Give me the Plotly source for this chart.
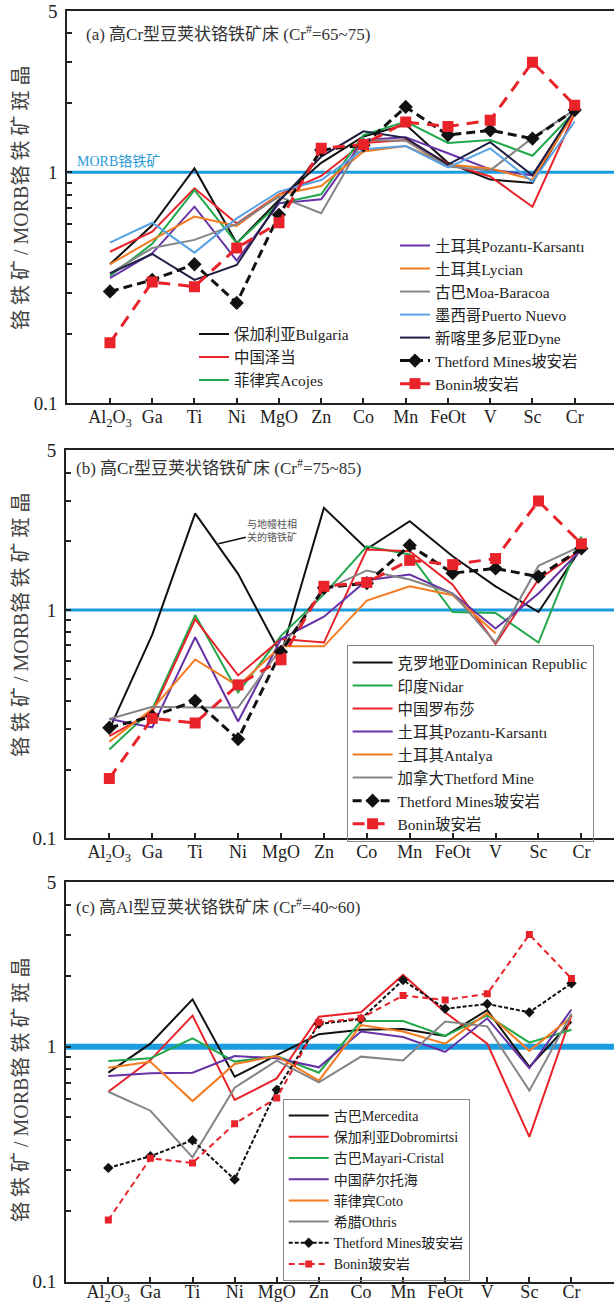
import plotly.graph_objects as go

W, H = 614, 1306

categories = ["Al2O3", "Ga", "Ti", "Ni", "MgO", "Zn", "Co", "Mn", "FeOt", "V", "Sc", "Cr"]
tick_labels = ["Al<sub>2</sub>O<sub>3</sub>", "Ga", "Ti", "Ni", "MgO", "Zn", "Co", "Mn", "FeOt", "V", "Sc", "Cr"]

# reference series shared by all panels
thetford_bon = [0.305, 0.342, 0.40, 0.272, 0.655, 1.25, 1.31, 1.92, 1.45, 1.52, 1.40, 1.86]
bonin_bon = [0.183, 0.335, 0.32, 0.47, 0.605, 1.27, 1.32, 1.65, 1.58, 1.68, 3.0, 1.95]

# panel (a) high-Cr, Cr# 65-75
a_bulgaria = [0.40, 0.59, 1.04, 0.493, 0.76, 1.10, 1.43, 1.61, 1.10, 0.93, 0.90, 1.87]
a_zedang = [0.453, 0.553, 0.853, 0.60, 0.80, 0.964, 1.34, 1.38, 1.09, 0.96, 0.71, 1.80]
a_acojes = [0.356, 0.49, 0.838, 0.493, 0.734, 0.803, 1.45, 1.66, 1.34, 1.38, 1.18, 1.83]
a_pozanti = [0.348, 0.446, 0.71, 0.415, 0.734, 0.764, 1.38, 1.42, 1.21, 1.03, 0.97, 1.84]
a_lycian = [0.40, 0.51, 0.643, 0.586, 0.80, 0.873, 1.23, 1.30, 1.08, 1.04, 0.93, 1.82]
a_moa = [0.365, 0.47, 0.51, 0.597, 0.785, 0.665, 1.38, 1.37, 1.06, 1.02, 1.41, 1.87]
a_puerto = [0.496, 0.605, 0.449, 0.632, 0.825, 0.926, 1.26, 1.30, 1.05, 1.27, 0.91, 1.66]
a_dyne = [0.365, 0.443, 0.342, 0.397, 0.75, 1.17, 1.505, 1.41, 1.08, 1.35, 0.97, 1.87]

# panel (b) high-Cr, Cr# 75-85
b_dominican = [0.30, 0.78, 2.65, 1.44, 0.638, 2.8, 1.85, 2.45, 1.72, 1.27, 0.98, 1.87]
b_nidar = [0.245, 0.368, 0.95, 0.435, 0.77, 1.17, 1.90, 1.75, 0.98, 0.97, 0.72, 2.1]
b_luobusa = [0.28, 0.356, 0.911, 0.517, 0.746, 0.72, 1.84, 1.81, 1.29, 0.71, 1.36, 1.84]
b_pozanti = [0.333, 0.306, 0.76, 0.325, 0.746, 0.935, 1.35, 1.43, 1.18, 0.83, 1.18, 1.84]
b_antalya = [0.265, 0.368, 0.607, 0.465, 0.693, 0.693, 1.10, 1.27, 1.16, 0.79, None, None]
b_thetford_mine = [0.333, 0.377, 0.374, 0.374, 0.68, 1.22, 1.49, 1.36, 1.18, 0.72, 1.56, 1.91]

# panel (c) high-Al, Cr# 40-60
c_mercedita = [0.775, 1.03, 1.59, 0.745, 0.92, 1.13, 1.18, 1.19, 1.11, 1.43, 0.82, 1.28]
c_dobromirtsi = [0.643, 0.877, 1.355, 0.593, 0.733, 1.34, 1.40, 2.02, 1.40, 1.03, 0.413, 1.36]
c_mayari = [0.869, 0.892, 1.085, 0.864, 0.913, 0.775, 1.285, 1.285, 1.11, 1.36, 1.04, 1.18]
c_sartohay = [0.75, 0.77, 0.775, 0.913, 0.892, 0.817, 1.16, 1.10, 0.95, 1.32, 0.81, 1.44]
c_coto = [0.814, 0.863, 0.587, 0.844, 0.913, 0.717, 1.235, 1.16, 1.03, 1.39, 0.96, 1.34]
c_othris = [0.643, 0.534, 0.338, 0.669, 0.872, 0.705, 0.907, 0.873, 1.28, 1.22, 0.65, 1.38]

y_tickvals = [0.1, 0.2, 0.3, 0.4, 0.5, 0.6, 0.7, 0.8, 0.9, 1, 2, 3, 4, 5]
y_ticktext = ["0.1", "", "", "", "", "", "", "", "", "1", "", "", "", "5"]

SERIF = "Liberation Serif, Noto Sans CJK SC, serif"
BLACK = "#111111"
RED = "#e8232a"
GREEN = "#20a84a"
PURPLE = "#6632a6"
ORANGE = "#f47b20"
GRAY = "#858585"
LBLUE = "#58a2e4"
NAVY = "#1f1f45"
MORB = "#1b9be0"

fig = go.Figure()


def px_x(p):
    return p / W


def px_y(p):
    return 1 - p / H


def add(ax, name, y, color, legend, dash="solid", width=2.0, marker=None, msize=0):
    mode = "lines+markers" if marker else "lines"
    fig.add_trace(go.Scatter(
        x=categories, y=y, name=name, mode=mode,
        xaxis="x" + ax, yaxis="y" + ax,
        line=dict(color=color, width=width, dash=dash),
        marker=dict(symbol=marker, size=msize, color=color) if marker else None,
        legend=legend, connectgaps=False,
        hoverinfo="skip",
    ))


# ---- panel a
add("", "保加利亚Bulgaria", a_bulgaria, BLACK, "legend")
add("", "中国泽当", a_zedang, RED, "legend")
add("", "菲律宾Acojes", a_acojes, GREEN, "legend")
add("", "土耳其Pozantı-Karsantı", a_pozanti, PURPLE, "legend2")
add("", "土耳其Lycian", a_lycian, ORANGE, "legend2")
add("", "古巴Moa-Baracoa", a_moa, GRAY, "legend2")
add("", "墨西哥Puerto Nuevo", a_puerto, LBLUE, "legend2")
add("", "新喀里多尼亚Dyne", a_dyne, NAVY, "legend2")
add("", "Thetford Mines坡安岩", thetford_bon, BLACK, "legend2", dash="9px,5px", width=3, marker="diamond", msize=11)
add("", "Bonin坡安岩", bonin_bon, RED, "legend2", dash="12px,8px", width=3, marker="square", msize=11)

# ---- panel b
add("2", "克罗地亚Dominican Republic", b_dominican, BLACK, "legend3")
add("2", "印度Nidar", b_nidar, GREEN, "legend3")
add("2", "中国罗布莎", b_luobusa, RED, "legend3")
add("2", "土耳其Pozantı-Karsantı", b_pozanti, PURPLE, "legend3")
add("2", "土耳其Antalya", b_antalya, ORANGE, "legend3")
add("2", "加拿大Thetford Mine", b_thetford_mine, GRAY, "legend3")
add("2", "Thetford Mines玻安岩", thetford_bon, BLACK, "legend3", dash="9px,5px", width=3, marker="diamond", msize=11)
add("2", "Bonin玻安岩", bonin_bon, RED, "legend3", dash="12px,8px", width=3, marker="square", msize=11)

# ---- panel c
add("3", "古巴Mercedita", c_mercedita, BLACK, "legend4")
add("3", "保加利亚Dobromirtsi", c_dobromirtsi, RED, "legend4")
add("3", "古巴Mayari-Cristal", c_mayari, GREEN, "legend4")
add("3", "中国萨尔托海", c_sartohay, PURPLE, "legend4")
add("3", "菲律宾Coto", c_coto, ORANGE, "legend4")
add("3", "希腊Othris", c_othris, GRAY, "legend4")
add("3", "Thetford Mines玻安岩", thetford_bon, BLACK, "legend4", dash="4px,2px", width=2, marker="diamond", msize=8)
add("3", "Bonin玻安岩", bonin_bon, RED, "legend4", dash="6px,4px", width=2, marker="square", msize=7)

# panel geometry in pixels: (left, top, bottom, xrange, label standoff)
panels = {
    "": dict(left=67.3, top=10.9, bottom=403.3, xr=[-1.01, 11.93], so=-4),
    "2": dict(left=66.0, top=450.4, bottom=838.3, xr=[-1.01, 11.76], so=-4),
    "3": dict(left=66.0, top=882.4, bottom=1281.7, xr=[-1.005, 12.01], so=-7),
}

layout_axes = {}
for k, p in panels.items():
    xa = dict(
        domain=[px_x(p["left"]), 1.0], range=p["xr"], type="category",
        categoryorder="array", categoryarray=categories,
        tickvals=categories, ticktext=tick_labels,
        ticks="inside", ticklen=5, tickwidth=1.5, tickcolor="#222",
        showline=True, linecolor="#222", linewidth=2, mirror=True,
        showgrid=False, zeroline=False, automargin=False,
        tickfont=dict(family=SERIF, size=18, color="#222"),
        ticklabelstandoff=p["so"],
        anchor="y" + k, fixedrange=True,
    )
    ya = dict(
        domain=[px_y(p["bottom"]), px_y(p["top"])], type="log",
        range=[-1, 0.69897],
        tickvals=y_tickvals, ticktext=y_ticktext,
        ticks="inside", ticklen=5, tickwidth=1.5, tickcolor="#222",
        showline=True, linecolor="#222", linewidth=2, mirror=False,
        showgrid=False, zeroline=False, automargin=False,
        tickfont=dict(family=SERIF, size=19, color="#222"),
        ticklabelstandoff=4,
        anchor="x" + k, fixedrange=True,
    )
    layout_axes["xaxis" + k] = xa
    layout_axes["yaxis" + k] = ya

shapes = []
for k, wdt in [("", 3), ("2", 3), ("3", 6)]:
    shapes.append(dict(type="line", xref="x" + k + " domain", yref="y" + k,
                       x0=0, x1=1, y0=1, y1=1, line=dict(color=MORB, width=wdt), layer="below"))

annotations = []
titles = [
    ("(a) 高Cr型豆荚状铬铁矿床 (Cr<sup>#</sup>=65~75)", 84, 33),
    ("(b) 高Cr型豆荚状铬铁矿床 (Cr<sup>#</sup>=75~85)", 74, 467),
    ("(c) 高Al型豆荚状铬铁矿床 (Cr<sup>#</sup>=40~60)", 74, 906),
]
for t, xx, yy in titles:
    annotations.append(dict(text=t, xref="paper", yref="paper", x=px_x(xx), y=px_y(yy),
                            xanchor="left", yanchor="middle", showarrow=False,
                            font=dict(family=SERIF, size=17, color="#333")))

ytitle = "铬 铁 矿 / MORB铬 铁 矿 斑 晶"
for yy in [198, 625, 1090]:
    annotations.append(dict(text=ytitle, xref="paper", yref="paper", x=px_x(21), y=px_y(yy),
                            xanchor="center", yanchor="middle", textangle=-90, showarrow=False,
                            font=dict(family=SERIF, size=20, color="#444")))

annotations.append(dict(text="MORB铬铁矿", xref="paper", yref="paper", x=px_x(75), y=px_y(161),
                        xanchor="left", yanchor="middle", showarrow=False,
                        font=dict(family=SERIF, size=14, color="#2a9ad8")))

# leader note for the plume-related chromitite in panel b
annotations.append(dict(text="与地幔柱相<br>关的铬铁矿", xref="x2", yref="y2", x=2.54, y=0.29,
                        ax=54, ay=-13, axref="pixel", ayref="pixel",
                        showarrow=True, arrowhead=0, arrowwidth=1.5, arrowcolor="#111",
                        font=dict(family=SERIF, size=10, color="#555"), align="left"))


def leg(x, y, size, bw, itemwidth=30):
    d = dict(x=px_x(x), y=px_y(y), xanchor="left", yanchor="top",
             bgcolor="rgba(0,0,0,0)", traceorder="normal", borderwidth=bw,
             itemwidth=itemwidth,
             font=dict(family=SERIF, size=size, color="#222"))
    if bw:
        d["bordercolor"] = "#888"
    return d


fig.update_layout(
    width=W, height=H, margin=dict(l=0, r=0, t=0, b=0),
    paper_bgcolor="white", plot_bgcolor="white",
    showlegend=True,
    shapes=shapes, annotations=annotations,
    legend=leg(194, 317.5, 15.4, 0),
    legend2=leg(395, 229, 15.4, 0),
    legend3=leg(346.6, 645, 15.4, 1, 40),
    legend4=leg(282.7, 1099, 14, 1, 40),
    **layout_axes,
)

fig.write_html("out.html")
